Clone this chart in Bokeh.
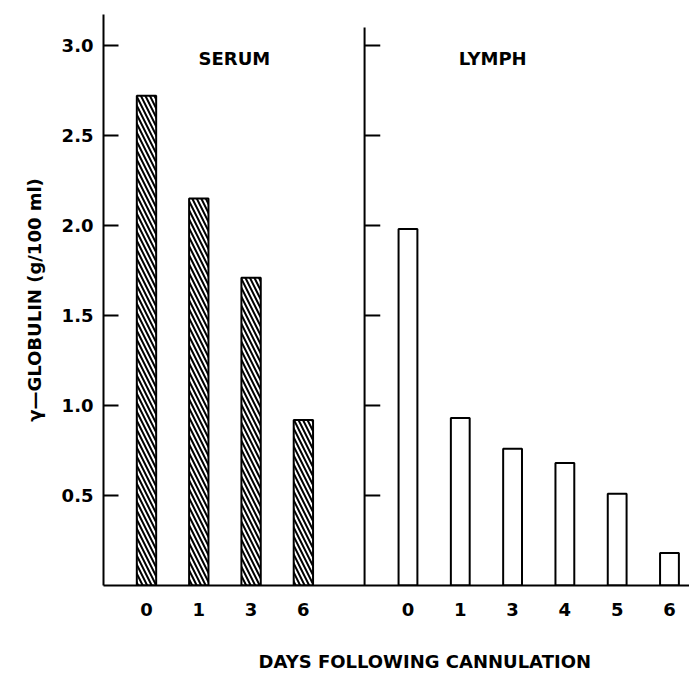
from bokeh.plotting import figure
from bokeh.models import Range1d, FixedTicker, Label, Title
from bokeh.embed import file_html
from bokeh.resources import INLINE

# ---- data ----
serum_days = ["0", "1", "3", "6"]
serum_values = [2.72, 2.15, 1.71, 0.92]
lymph_days = ["0", "1", "3", "4", "5", "6"]
lymph_values = [1.98, 0.93, 0.76, 0.68, 0.51, 0.18]
y_ticks = [0.5, 1.0, 1.5, 2.0, 2.5, 3.0]
y_tick_labels = ["0.5", "1.0", "1.5", "2.0", "2.5", "3.0"]

# slot positions: serum bars in slots 0..3, lymph bars in slots 5..10
serum_x = list(range(len(serum_days)))
lymph_offset = len(serum_days) + 1
lymph_x = [lymph_offset + i for i in range(len(lymph_days))]

FONT = "DejaVu Sans"
divider_x = 4.17
divider_top = 3.10
tick_len = 0.30

p = figure(width=689, height=677, output_backend="svg", toolbar_location=None,
           x_range=Range1d(-0.822, 10.383), y_range=Range1d(0, 3.172),
           min_border_left=103, min_border_right=0, min_border_top=14,
           min_border_bottom=92)
p.outline_line_color = None
p.grid.visible = False
p.background_fill_color = "white"
p.border_fill_color = "white"

p.vbar(x=serum_x, top=serum_values, width=0.37, bottom=0,
       fill_color="white", line_color="black", line_width=2,
       hatch_pattern="\\", hatch_color="black", hatch_weight=2, hatch_scale=9)
p.vbar(x=lymph_x, top=lymph_values, width=0.36, bottom=0,
       fill_color="white", line_color="black", line_width=2)

# right panel divider with its own inner ticks
p.segment(x0=[divider_x], x1=[divider_x], y0=[0], y1=[divider_top],
          line_color="black", line_width=2)
p.segment(x0=[divider_x] * len(y_ticks), x1=[divider_x + tick_len] * len(y_ticks),
          y0=y_ticks, y1=y_ticks, line_color="black", line_width=2)

# y axis
ya = p.yaxis[0]
ya.ticker = FixedTicker(ticks=y_ticks)
ya.major_label_overrides = {t: l for t, l in zip(y_ticks, y_tick_labels)}
ya.major_tick_in = 15
ya.major_tick_out = 0
ya.minor_tick_in = 0
ya.minor_tick_out = 0
ya.major_tick_line_width = 2
ya.axis_line_width = 2
ya.axis_line_color = "black"
ya.major_tick_line_color = "black"
ya.major_label_text_font = FONT
ya.major_label_text_font_style = "bold"
ya.major_label_text_font_size = "18px"
ya.major_label_text_color = "black"
ya.major_label_standoff = 10
ya.axis_label = "γ—GLOBULIN (g/100 ml)"
ya.axis_label_text_font = FONT
ya.axis_label_text_font_style = "bold"
ya.axis_label_text_font_size = "18px"
ya.axis_label_text_color = "black"
ya.axis_label_standoff = 14

# x axis
xa = p.xaxis[0]
all_x = serum_x + lymph_x
all_labels = serum_days + lymph_days
xa.ticker = FixedTicker(ticks=all_x)
xa.major_label_overrides = {t: l for t, l in zip(all_x, all_labels)}
xa.major_tick_in = 0
xa.major_tick_out = 0
xa.minor_tick_in = 0
xa.minor_tick_out = 0
xa.axis_line_width = 2
xa.axis_line_color = "black"
xa.major_label_text_font = FONT
xa.major_label_text_font_style = "bold"
xa.major_label_text_font_size = "18px"
xa.major_label_text_color = "black"
xa.major_label_standoff = 17

# panel titles
for txt, xpos in [("SERUM", 1.68), ("LYMPH", 6.62)]:
    p.add_layout(Label(x=xpos, y=2.93, text=txt, text_align="center",
                       text_baseline="middle", text_font=FONT,
                       text_font_style="bold", text_font_size="18px",
                       text_color="black"))

p.add_layout(Title(text="DAYS FOLLOWING CANNULATION", align="left", offset=155,
                   standoff=0, padding=dict(top=30, bottom=0, left=0, right=0),
                   text_font=FONT, text_font_style="bold",
                   text_font_size="18px", text_color="black"), "below")

open("out.html", "w").write(file_html(p, INLINE))
